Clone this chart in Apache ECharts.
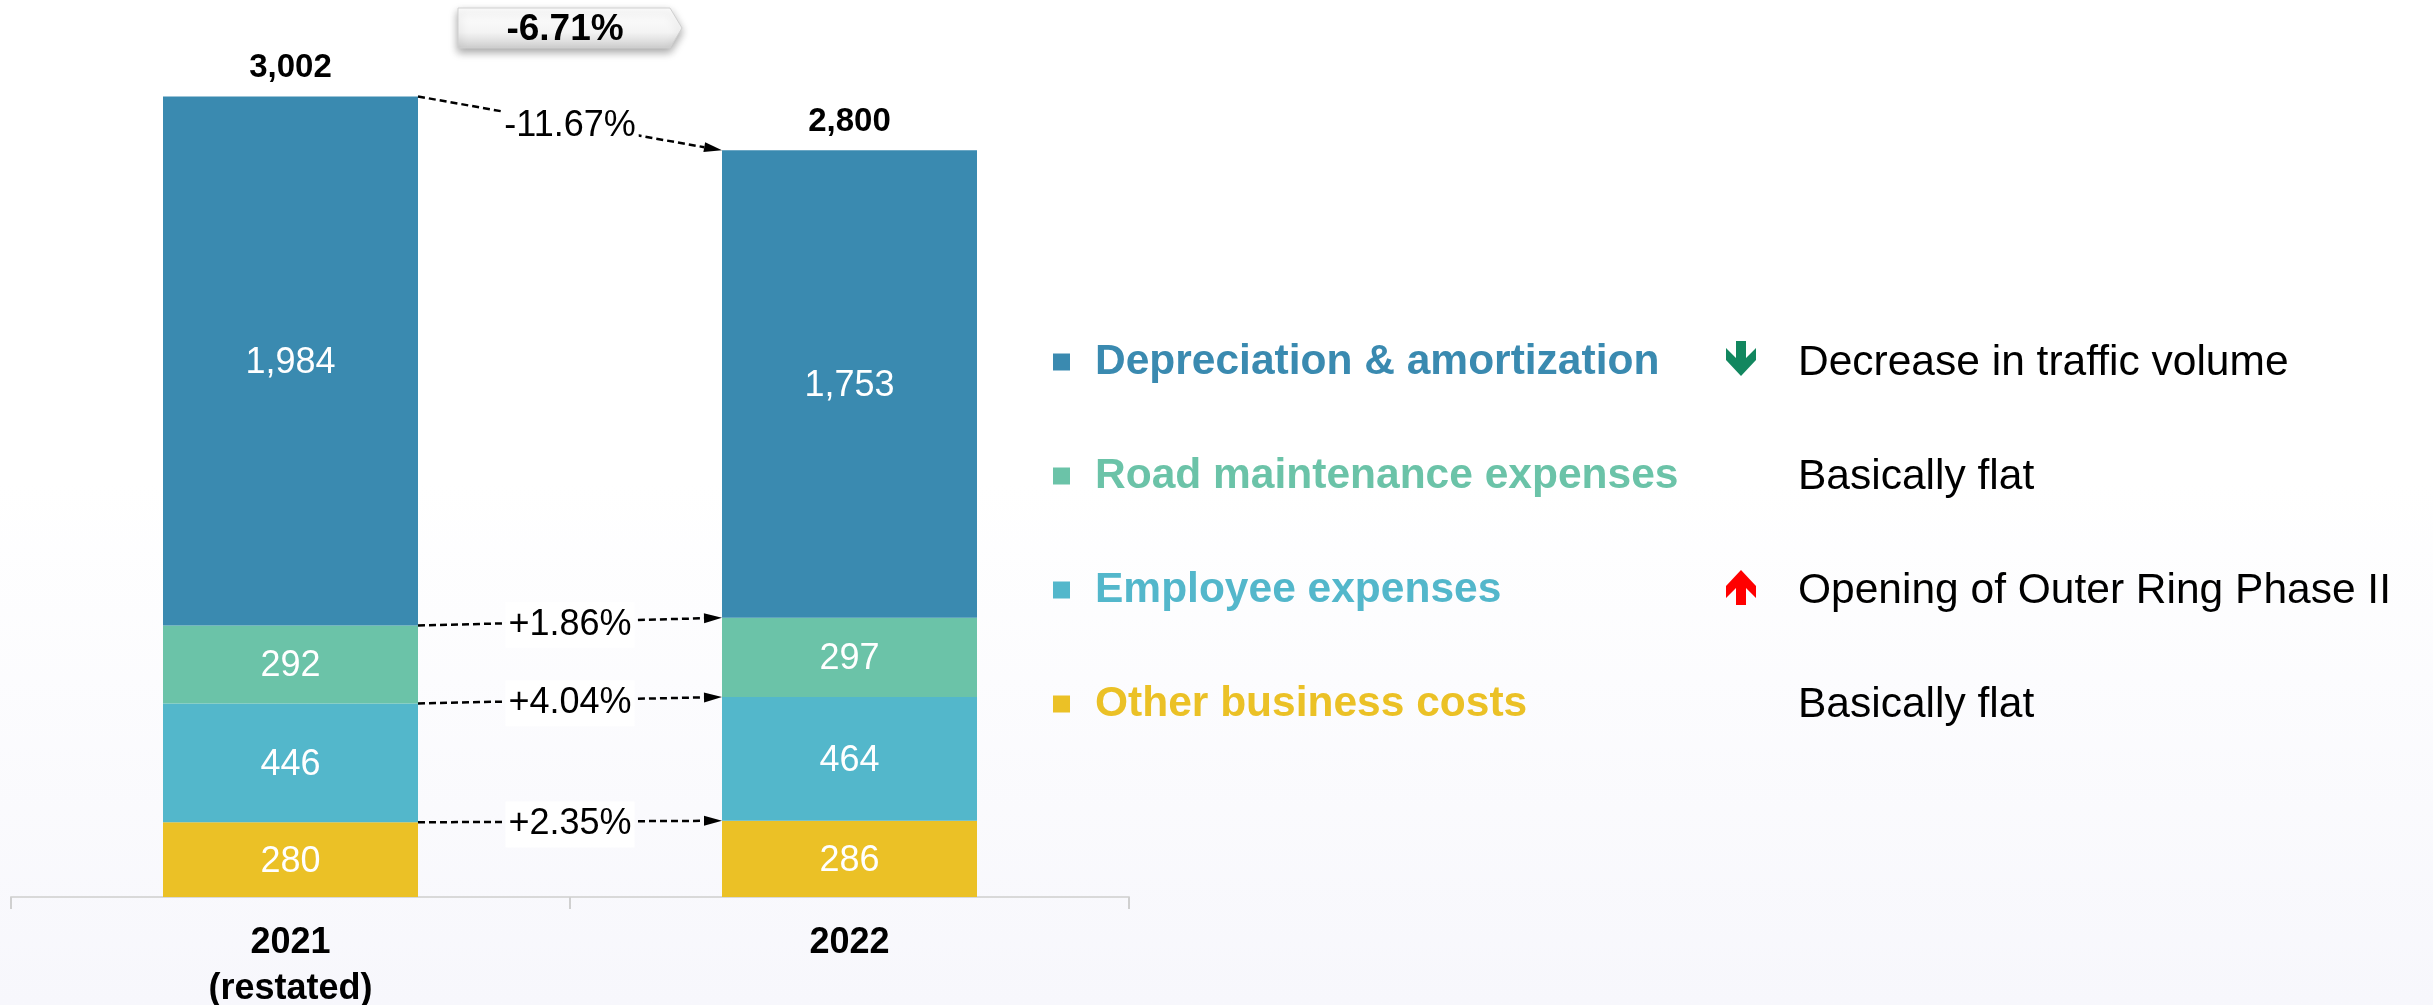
<!DOCTYPE html>
<html>
<head>
<meta charset="utf-8">
<script src="https://cdn.jsdelivr.net/npm/echarts@6/dist/echarts.min.js"></script>
<style>
  html, body { margin: 0; padding: 0; }
  #main {
    width: 2433px;
    height: 1005px;
    background: linear-gradient(to bottom, #ffffff 0%, #ffffff 48%, #f7f7fc 100%);
  }
</style>
</head>
<body>
<div id="main"></div>
<script>
// data (RMB million)
const categories = ['2021\n(restated)', '2022'];
const seriesNames = ['Other business costs', 'Employee expenses', 'Road maintenance expenses', 'Depreciation & amortization'];
const otherCosts = [280, 286];
const employee = [446, 464];
const roadMaintenance = [292, 297];
const depreciation = [1984, 1753];
const totals = [3002, 2800];
const changes = ['+2.35%', '+4.04%', '+1.86%', '-11.67%']; // same order as seriesNames
const totalChange = '-6.71%';
const reasons = ['Decrease in traffic volume', 'Basically flat', 'Opening of Outer Ring Phase II', 'Basically flat'];
const trends = ['down', null, 'up', null];

const colors = ['#EBC126', '#53B7CB', '#6BC3A8', '#3A8AB0'];
const FONT = '"Liberation Sans", Arial, sans-serif';
const BAR_W = 255;

const chart = echarts.init(document.getElementById('main'));
const layers = [otherCosts, employee, roadMaintenance, depreciation];

const fmt = v => v.toLocaleString('en-US');

const series = layers.map((arr, k) => ({
  name: seriesNames[k],
  type: 'bar',
  stack: 'cost',
  barWidth: BAR_W,
  data: arr,
  itemStyle: { color: colors[k] },
  label: {
    show: true,
    position: 'inside',
    offset: [0, 2],
    color: '#fff',
    fontSize: 36,
    fontFamily: FONT,
    formatter: p => fmt(p.value)
  }
}));

// totals on top of the bars
series.push({
  name: 'Total',
  type: 'scatter',
  symbolSize: 0,
  data: totals,
  itemStyle: { opacity: 1 },
  label: {
    show: true,
    position: 'top',
    distance: 12,
    color: '#000',
    fontSize: 33,
    fontWeight: 'bold',
    fontFamily: FONT,
    formatter: p => fmt(p.value)
  }
});

// legend rows from top: depreciation .. other
const legendData = [3, 2, 1, 0].map(k => ({
  name: seriesNames[k],
  textStyle: { color: colors[k] }
}));

chart.setOption({
  animation: false,
  backgroundColor: 'transparent',
  grid: { left: 11, right: 1304, top: 17, bottom: 108, outerBoundsMode: 'none', containLabel: false },
  xAxis: {
    type: 'category',
    data: categories,
    axisLine: { show: true, lineStyle: { color: '#D9D9D9', width: 2 } },
    axisTick: { show: true, interval: 0, alignWithLabel: false, length: 12, lineStyle: { color: '#D0D0D0', width: 2 } },
    axisLabel: {
      margin: 23,
      fontSize: 36,
      fontWeight: 'bold',
      color: '#000',
      lineHeight: 46,
      fontFamily: FONT
    }
  },
  yAxis: { type: 'value', min: 0, max: 3300, show: false },
  legend: {
    orient: 'vertical',
    left: 1048,
    top: 333,
    icon: 'rect',
    itemWidth: 17,
    itemHeight: 17,
    itemGap: 66,
    selectedMode: false,
    data: legendData,
    textStyle: {
      fontSize: 42.5,
      fontWeight: 'bold',
      fontFamily: FONT,
      lineHeight: 48,
      padding: [0, 0, 0, 20]
    }
  },
  series: series
});

// connectors between the two bars
const graphics = [];
const toPx = (i, v) => chart.convertToPixel({ gridIndex: 0 }, [i, v]);
let cum = [0, 0];
layers.forEach((arr, k) => {
  cum = [cum[0] + arr[0], cum[1] + arr[1]];
  const p0 = toPx(0, cum[0]);
  const p1 = toPx(1, cum[1]);
  const x0 = p0[0] + BAR_W / 2, y0 = p0[1];
  const x1 = p1[0] - BAR_W / 2, y1 = p1[1];
  const dx = x1 - x0, dy = y1 - y0;
  const len = Math.sqrt(dx * dx + dy * dy);
  const ux = dx / len, uy = dy / len;
  const L = 18, W = 5;
  const bx = x1 - ux * L, by = y1 - uy * L;
  graphics.push({
    type: 'line',
    shape: { x1: x0, y1: y0, x2: bx, y2: by },
    style: { stroke: '#000', lineWidth: 2.5, lineDash: [7, 4] },
    z: 10
  });
  graphics.push({
    type: 'polygon',
    shape: { points: [[x1, y1], [bx - uy * W, by + ux * W], [bx + uy * W, by - ux * W]] },
    style: { fill: '#000' },
    z: 10
  });
  graphics.push({
    type: 'text',
    x: (x0 + x1) / 2,
    y: (y0 + y1) / 2 + 3,
    style: {
      text: changes[k],
      align: 'center',
      verticalAlign: 'middle',
      fontSize: 36,
      fontFamily: FONT,
      fill: '#000',
      backgroundColor: '#fff',
      padding: [5, 3]
    },
    z: 11
  });
});

// total change tag
const cx = (toPx(0, 0)[0] + toPx(1, 0)[0]) / 2;
graphics.push({
  type: 'polygon',
  shape: { points: [[cx - 112, 8], [cx + 100, 8], [cx + 112, 28], [cx + 100, 48], [cx - 112, 48]] },
  style: {
    fill: new echarts.graphic.LinearGradient(0, 0, 0, 1, [
      { offset: 0, color: '#ffffff' },
      { offset: 0.6, color: '#f4f4f4' },
      { offset: 1, color: '#cfcfcf' }
    ]),
    stroke: '#d0d0d0',
    lineWidth: 1,
    shadowBlur: 8,
    shadowOffsetY: 4,
    shadowColor: 'rgba(0,0,0,0.35)'
  },
  z: 10
});
graphics.push({
  type: 'text',
  x: cx - 5,
  y: 30,
  style: {
    text: totalChange,
    align: 'center',
    verticalAlign: 'middle',
    fontSize: 37,
    fontWeight: 'bold',
    fontFamily: FONT,
    fill: '#000'
  },
  z: 11
});

// reasons column
const rowY = [363, 477, 591, 705];
reasons.forEach((r, i) => {
  graphics.push({
    type: 'text',
    x: 1798,
    y: rowY[i],
    style: {
      text: r,
      align: 'left',
      verticalAlign: 'middle',
      fontSize: 42.5,
      fontFamily: FONT,
      fill: '#000'
    }
  });
  if (trends[i]) {
    const s = trends[i] === 'down' ? 1 : -1;
    const pts = [[-5, -18], [5, -18], [5, -1], [15, -11], [15, 1], [0, 17], [-15, 1], [-15, -11], [-5, -1]]
      .map(p => [1741 + p[0], rowY[i] - 4 + p[1] * s]);
    graphics.push({
      type: 'polygon',
      shape: { points: pts },
      style: { fill: trends[i] === 'down' ? '#12875F' : '#FF0000' }
    });
  }
});

chart.setOption({ graphic: graphics });
</script>
</body>
</html>
